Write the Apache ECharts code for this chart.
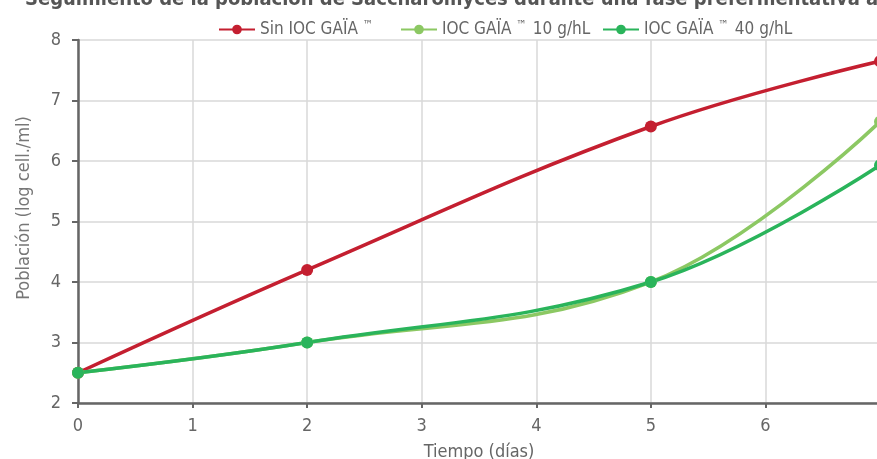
<!DOCTYPE html>
<html><head><meta charset="utf-8">
<script src="https://cdn.jsdelivr.net/npm/echarts@6/dist/echarts.min.js"></script>
<style>html,body{margin:0;padding:0;background:#fff}#c{width:877px;height:459px}</style>
</head><body><div id="c"></div>
<script>
const titleText = 'Seguimiento de la población de Saccharomyces durante una fase prefermentativa a 10°C';
const seriesNames = ['Sin IOC GAÏA ™', 'IOC GAÏA ™ 10 g/hL', 'IOC GAÏA ™ 40 g/hL'];
const xAxisTitle = 'Tiempo (días)';
const yAxisTitle = 'Población (log cell./ml)';
const days = [0, 2, 5, 7];
const sinGaia = [2.5, 4.2, 6.57, 7.65];
const gaia10 = [2.5, 3.0, 4.0, 6.65];
const gaia40 = [2.5, 3.0, 4.0, 5.93];
const colors = ['#c41f30', '#8cc863', '#2ab45b'];
const FONT = '"DejaVu Sans Condensed","Liberation Sans Narrow",Roboto,sans-serif';

const pairs = v => days.map((d, i) => [d, v[i]]);
const legendFmt = name => {
  const parts = name.split('™');
  return '{a|' + parts[0] + '}{s|™}{a|' + (parts[1] || '') + '}';
};
const legendText = {
  rich: {
    a: { fontFamily: FONT, fontSize: 17, color: '#666' },
    s: { fontFamily: FONT, fontSize: 12, color: '#666', padding: [0, 1, 7, 0] }
  }
};
const legendLefts = [213, 395, 597];
const chart = echarts.init(document.getElementById('c'));
chart.setOption({
  animation: false,
  title: { text: titleText, left: 20, top: -15,
    textStyle: { fontFamily: FONT, fontSize: 20, fontWeight: 'bold', color: '#555' } },
  legend: seriesNames.map((n, i) => ({
    top: 15, left: legendLefts[i], itemWidth: 36, itemHeight: 12, itemGap: 10,
    formatter: legendFmt, textStyle: legendText, data: [n]
  })),
  grid: { left: 78, right: -3, top: 40, bottom: 56, containLabel: false, outerBoundsMode: 'none' },
  graphic: [{
    type: 'text', x: 24, y: 208, rotation: Math.PI / 2,
    style: { text: yAxisTitle, fontFamily: FONT, fontSize: 18, fill: '#777',
      align: 'center', verticalAlign: 'middle' }
  }],
  xAxis: { type: 'value', min: 0, max: 7, interval: 1,
    name: xAxisTitle, nameLocation: 'middle', nameGap: 40,
    nameTextStyle: { fontFamily: FONT, fontSize: 18, color: '#666' },
    axisLine: { lineStyle: { color: '#666', width: 2.5 } },
    axisTick: { show: true, length: 5, lineStyle: { color: '#666', width: 2 } },
    axisLabel: { fontFamily: FONT, fontSize: 18, color: '#666', margin: 14, showMaxLabel: false },
    splitLine: { show: true, lineStyle: { color: '#d9d9d9', width: 1.5 } } },
  yAxis: { type: 'value', min: 2, max: 8, interval: 1,
    axisLine: { show: true, lineStyle: { color: '#666', width: 2.5 } },
    axisTick: { show: true, length: 6, lineStyle: { color: '#666', width: 2 } },
    axisLabel: { fontFamily: FONT, fontSize: 18, color: '#666', margin: 17 },
    splitLine: { show: true, lineStyle: { color: '#d9d9d9', width: 1.5 } } },
  series: [
    { name: seriesNames[0], type: 'line', data: pairs(sinGaia), smooth: 0.4,
      symbol: 'circle', symbolSize: 12, color: colors[0], lineStyle: { width: 3.5 } },
    { name: seriesNames[1], type: 'line', data: pairs(gaia10), smooth: 0.4,
      symbol: 'circle', symbolSize: 12, color: colors[1], lineStyle: { width: 3.5 } },
    { name: seriesNames[2], type: 'line', data: pairs(gaia40), smooth: 0.4,
      symbol: 'circle', symbolSize: 12, color: colors[2], lineStyle: { width: 3.5 } }
  ]
});
</script></body></html>
